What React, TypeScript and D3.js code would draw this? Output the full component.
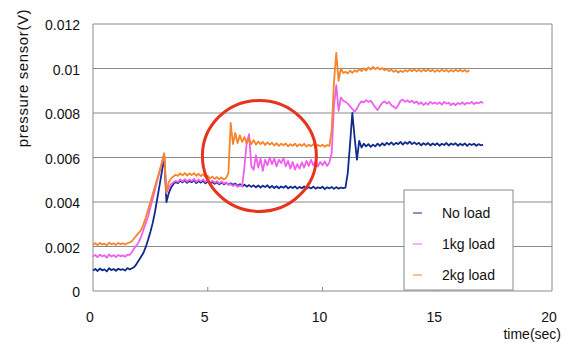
import React from "react";
import * as d3 from "d3";

// time step of the sampled traces (seconds)
const STEP = 0.1;

// Series values (mV), sampled every 0.1 s starting at t = 0
const noLoadMV = [
  0.92, 0.99, 0.90, 1.01, 0.93, 0.97, 0.88, 1.02, 0.94, 0.99,
  0.91, 1.00, 0.95, 0.98, 0.92, 1.03, 0.97, 1.02,
  1.08, 1.22, 1.38, 1.55, 1.72, 1.98, 2.30, 2.65, 3.05, 3.55, 4.15, 4.75,
  5.35, 6.10, 4.00, 4.40, 4.65, 4.80, 4.90, 4.85, 4.96, 4.88,
  4.97, 4.86, 4.95, 4.89, 4.98, 4.85, 4.94, 4.87, 4.95, 4.84,
  4.92, 4.83, 4.90, 4.82, 4.89, 4.80, 4.88, 4.79, 4.86, 4.78,
  4.84, 4.77, 4.83, 4.72, 4.80, 4.70, 4.78, 4.69, 4.76, 4.68,
  4.75, 4.66, 4.74, 4.65, 4.73, 4.67, 4.75, 4.64, 4.72, 4.63,
  4.71, 4.62, 4.70, 4.64, 4.72, 4.61, 4.69, 4.63, 4.70, 4.60,
  4.68, 4.62, 4.70, 4.59, 4.67, 4.61, 4.69, 4.60, 4.66, 4.62,
  4.69, 4.58, 4.66, 4.61, 4.68, 4.59, 4.67, 4.60, 4.65, 4.62,
  4.65, 5.30, 6.60, 8.00, 6.90, 5.90, 6.75, 6.45, 6.62, 6.50,
  6.60, 6.48, 6.58, 6.50, 6.62, 6.52, 6.64, 6.55, 6.66, 6.58,
  6.68, 6.57, 6.66, 6.60, 6.70, 6.58, 6.69, 6.62, 6.71, 6.60,
  6.68, 6.59, 6.66, 6.55, 6.64, 6.57, 6.65, 6.54, 6.63, 6.56,
  6.64, 6.53, 6.62, 6.56, 6.65, 6.54, 6.63, 6.57, 6.64, 6.53,
  6.62, 6.55, 6.63, 6.52, 6.61, 6.56, 6.62, 6.53, 6.60, 6.55,
  6.58,
];

const load1kgMV = [
  1.55, 1.62, 1.52, 1.63, 1.56, 1.60, 1.50, 1.64, 1.55, 1.61,
  1.53, 1.62, 1.56, 1.60, 1.54, 1.63,
  1.62, 1.75, 1.92, 2.05, 2.22, 2.45, 2.75, 3.05, 3.35, 3.75, 4.15, 4.55, 4.95, 5.35,
  5.75, 6.15, 4.40, 4.65, 4.80, 4.88, 4.95, 4.90, 5.02, 4.93,
  5.03, 4.92, 5.01, 4.94, 5.04, 4.91, 5.00, 4.93, 5.02, 4.90,
  4.98, 4.88, 4.96, 4.87, 4.94, 4.84, 4.92, 4.83, 4.88, 4.78,
  4.80, 4.72, 4.78, 4.68, 4.74, 4.70, 5.60, 6.70, 7.05, 5.60,
  5.45, 6.10, 5.55, 5.95, 5.40, 5.90, 5.65, 6.00, 5.70, 5.95,
  5.60, 5.90, 5.75, 5.98, 5.60, 5.85, 5.50, 5.80, 5.45, 5.70,
  5.50, 5.78, 5.55, 5.85, 5.62, 5.90, 5.65, 5.85, 5.60, 5.80,
  5.65, 5.82, 5.62, 5.78, 6.20, 8.30, 9.25, 8.10, 8.70, 8.55,
  8.50, 8.42, 8.30, 8.18, 8.05, 8.20, 8.40, 8.52, 8.48, 8.58,
  8.50, 8.55, 8.40, 8.25, 8.13, 8.30, 8.45, 8.52, 8.42, 8.50,
  8.35, 8.28, 8.20, 8.35, 8.55, 8.60, 8.50, 8.58, 8.48, 8.55,
  8.45, 8.52, 8.40, 8.48, 8.36, 8.45, 8.38, 8.50, 8.42, 8.47,
  8.40, 8.48, 8.38, 8.50, 8.42, 8.46, 8.36, 8.44, 8.35, 8.45,
  8.40, 8.48, 8.38, 8.46, 8.42, 8.50, 8.40, 8.47, 8.44, 8.50,
  8.45,
];

const load2kgMV = [
  2.08, 2.15, 2.06, 2.16, 2.09, 2.13, 2.05, 2.17, 2.10, 2.14,
  2.07, 2.16, 2.10, 2.14, 2.09, 2.15,
  2.18, 2.25, 2.38, 2.50, 2.62, 2.75, 3.00, 3.30, 3.65, 4.00, 4.35, 4.70, 5.05, 5.40,
  5.75, 6.20, 4.45, 4.90, 5.05, 5.15, 5.22, 5.18, 5.28, 5.20,
  5.30, 5.19, 5.28, 5.21, 5.30, 5.18, 5.27, 5.16, 5.25, 5.12,
  5.18, 5.06, 5.14, 5.04, 5.12, 5.02, 5.10, 5.01, 5.08, 5.30,
  7.55, 6.60, 7.10, 6.65, 7.00, 6.70, 6.92, 6.62, 6.85, 6.60,
  6.78, 6.58, 6.72, 6.60, 6.70, 6.56, 6.68, 6.58, 6.66, 6.54,
  6.64, 6.52, 6.62, 6.55, 6.63, 6.50, 6.60, 6.53, 6.62, 6.50,
  6.60, 6.52, 6.61, 6.49, 6.58, 6.51, 6.60, 6.48, 6.57, 6.50,
  6.58, 6.48, 6.56, 6.52, 7.20, 9.40, 10.70, 9.45, 10.00, 9.80,
  9.85, 9.78, 9.90, 9.80, 9.92, 9.85, 9.98, 9.88, 10.00, 9.90,
  10.05, 9.95, 10.07, 9.97, 10.05, 9.95, 10.02, 9.92, 9.98, 9.88,
  9.95, 9.85, 9.92, 9.82, 9.90, 9.84, 9.93, 9.86, 9.95, 9.88,
  9.96, 9.87, 9.94, 9.86, 9.95, 9.88, 9.96, 9.87, 9.94, 9.85,
  9.93, 9.86, 9.95, 9.87, 9.94, 9.85, 9.93, 9.86, 9.95, 9.87,
  9.94, 9.86, 9.93, 9.85, 9.92,
];

const seriesNames = ["No load", "1kg load", "2kg load"];
const seriesColors = ["#102a8c", "#f060f0", "#f6842a"];
const xTicks = [0, 5, 10, 15, 20];
const yTicks = [0, 0.002, 0.004, 0.006, 0.008, 0.01, 0.012];
const yTickLabels = ["0", "0.002", "0.004", "0.006", "0.008", "0.01", "0.012"];

const W = 566;
const H = 343;
const M = { left: 93, right: 14, top: 24, bottom: 52 };
const FONT = "'Liberation Sans', Arial, sans-serif";

export default function App() {
  const x = d3.scaleLinear().domain([0, 20]).range([M.left, W - M.right]);
  const y = d3.scaleLinear().domain([0, 0.012]).range([H - M.bottom, M.top]);
  const toPts = (arr: number[]) => arr.map((v, i) => [i * STEP, v / 1000] as [number, number]);
  const series = [noLoadMV, load1kgMV, load2kgMV].map(toPts);
  const line = d3
    .line<[number, number]>()
    .x((d) => x(d[0]))
    .y((d) => y(d[1]));
  const grid = "#8a8a8a";
  const x0 = x(0), x1 = x(20), yb = y(0), yt = y(0.012);
  // legend box
  const lg = { x: 404, y: 190, w: 109, h: 100 };
  // highlight circle (data coordinates)
  const cx = x(7.25), cy = y(0.00607);
  return (
    <svg
      width={W}
      height={H}
      style={{ position: "absolute", left: 0, top: 0, background: "#fff" }}
      fontFamily={FONT}
    >
      {yTicks.map((t) => (
        <line key={"g" + t} x1={x0} x2={x1} y1={y(t)} y2={y(t)} stroke={grid} strokeWidth={1} />
      ))}
      <line x1={x0} x2={x0} y1={yt} y2={yb} stroke={grid} />
      <line x1={x1} x2={x1} y1={yt} y2={yb} stroke={grid} />
      {xTicks.slice(1, -1).map((t) => (
        <line key={"xt" + t} x1={x(t)} x2={x(t)} y1={yb} y2={yb - 4} stroke={grid} />
      ))}
      {yTicks.map((t, i) => (
        <text key={"yl" + t} x={80} y={y(t) + 6} textAnchor="end" fontSize={14} fill="#111">
          {yTickLabels[i]}
        </text>
      ))}
      {xTicks.map((t) => (
        <text key={"xl" + t} x={x(t) - 3} y={322} textAnchor="middle" fontSize={14} fill="#111">
          {t}
        </text>
      ))}
      <text x={561} y={339} textAnchor="end" fontSize={14} fill="#111">
        time(sec)
      </text>
      <text
        transform={`translate(28,${78}) rotate(-90)`}
        textAnchor="middle"
        fontSize={15}
        letterSpacing={0.6}
        fill="#111"
      >
        pressure sensor(V)
      </text>
      {series.map((s, i) => (
        <path key={"s" + i} d={line(s) || ""} fill="none" stroke={seriesColors[i]} strokeWidth={1.8} strokeLinejoin="round" />
      ))}
      <ellipse cx={cx} cy={cy} rx={57} ry={55.5} fill="none" stroke="#e8341c" strokeWidth={3} />
      <rect x={lg.x} y={lg.y} width={lg.w} height={lg.h} fill="#fff" stroke={grid} strokeWidth={1} />
      {seriesNames.map((n, i) => (
        <g key={"lg" + i}>
          <line x1={lg.x + 9} x2={lg.x + 18} y1={lg.y + 23 + i * 31} y2={lg.y + 23 + i * 31} stroke={seriesColors[i]} strokeWidth={1} />
          <text x={lg.x + 38} y={lg.y + 28 + i * 31} fontSize={14} fill="#111">
            {n}
          </text>
        </g>
      ))}
    </svg>
  );
}
